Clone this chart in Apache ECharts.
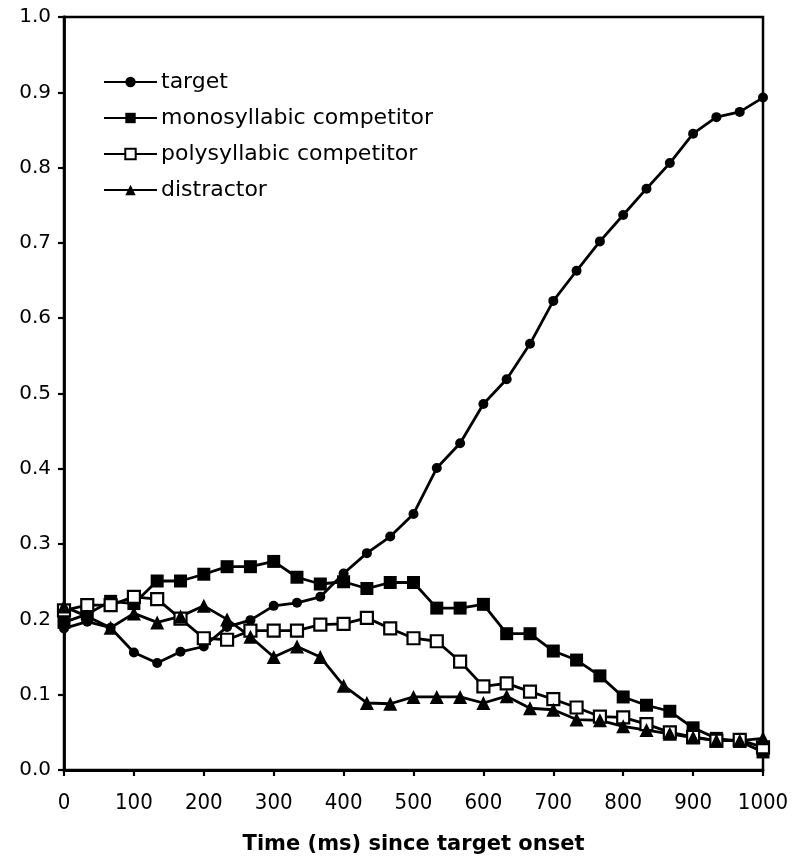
<!DOCTYPE html>
<html>
<head>
<meta charset="utf-8">
<script src="https://cdn.jsdelivr.net/npm/echarts@6/dist/echarts.min.js"></script>
<style>
html,body{margin:0;padding:0;background:#fff;}
#chart{width:800px;height:863px;}
</style>
</head>
<body>
<div id="chart"></div>
<script>
var times = [0, 33.3, 66.7, 100, 133.3, 166.7, 200, 233.3, 266.7, 300, 333.3, 366.7, 400, 433.3, 466.7, 500, 533.3, 566.7, 600, 633.3, 666.7, 700, 733.3, 766.7, 800, 833.3, 866.7, 900, 933.3, 966.7, 1000];
var target = [0.188, 0.197, 0.189, 0.156, 0.142, 0.157, 0.164, 0.190, 0.199, 0.218, 0.222, 0.230, 0.261, 0.288, 0.310, 0.340, 0.401, 0.434, 0.486, 0.519, 0.566, 0.623, 0.663, 0.702, 0.737, 0.772, 0.806, 0.845, 0.867, 0.874, 0.893];
var mono = [0.196, 0.207, 0.224, 0.221, 0.251, 0.251, 0.260, 0.270, 0.270, 0.277, 0.256, 0.247, 0.250, 0.241, 0.249, 0.249, 0.215, 0.215, 0.220, 0.181, 0.181, 0.158, 0.146, 0.125, 0.097, 0.086, 0.078, 0.056, 0.042, 0.038, 0.024];
var poly = [0.212, 0.219, 0.219, 0.230, 0.227, 0.201, 0.175, 0.173, 0.185, 0.185, 0.185, 0.193, 0.194, 0.202, 0.188, 0.175, 0.171, 0.144, 0.111, 0.115, 0.104, 0.094, 0.083, 0.071, 0.070, 0.061, 0.050, 0.044, 0.039, 0.040, 0.030];
var distractor = [0.217, 0.204, 0.189, 0.208, 0.196, 0.204, 0.218, 0.200, 0.177, 0.150, 0.164, 0.150, 0.112, 0.089, 0.088, 0.097, 0.097, 0.097, 0.089, 0.098, 0.082, 0.080, 0.067, 0.066, 0.058, 0.053, 0.048, 0.043, 0.039, 0.039, 0.042];
var seriesNames = ['target', 'monosyllabic competitor', 'polysyllabic competitor', 'distractor'];

function pairs(vals) { return times.map(function (t, i) { return [t, vals[i]]; }); }

var chart = echarts.init(document.getElementById('chart'), null, {renderer: 'canvas'});
var lineStyle = {color: '#000', width: 2.8};
function mk(name, vals, symbol, size, fill) {
  return {
    name: name, type: 'line', data: pairs(vals),
    symbol: symbol, symbolSize: size, showAllSymbol: true,
    lineStyle: lineStyle,
    itemStyle: {color: fill, borderColor: '#000', borderWidth: fill === '#fff' ? 2.2 : 0},
    emphasis: {disabled: true}, animation: false
  };
}
chart.setOption({
  animation: false,
  backgroundColor: '#fff',
  grid: {left: 64, right: 37, top: 17, bottom: 93, show: true, borderColor: '#000', borderWidth: 2.5, containLabel: false},
  legend: {
    orient: 'vertical', left: 98, top: 66,
    itemWidth: 53, itemHeight: 13, itemGap: 14,
    textStyle: {fontFamily: 'DejaVu Sans', fontSize: 22, color: '#000', padding: [0, 0, 0, -1]},
    data: seriesNames
  },
  xAxis: {
    type: 'value', min: 0, max: 1000, interval: 100,
    name: 'Time (ms) since target onset', nameLocation: 'middle', nameGap: 64,
    nameTextStyle: {fontFamily: 'DejaVu Sans', fontWeight: 'bold', fontSize: 21, color: '#000'},
    axisLine: {show: true, onZero: false, lineStyle: {color: '#000', width: 2.8}},
    axisTick: {show: true, length: 6, lineStyle: {color: '#000', width: 2.2}},
    axisLabel: {fontFamily: 'DejaVu Sans Condensed', fontSize: 22, color: '#000', margin: 22,
      formatter: function (v) { return String(v); }},
    splitLine: {show: false}
  },
  yAxis: {
    type: 'value', min: 0, max: 1, interval: 0.1,
    axisLine: {show: true, lineStyle: {color: '#000', width: 2.8}},
    axisTick: {show: true, length: 6, lineStyle: {color: '#000', width: 2.2}},
    axisLabel: {fontFamily: 'DejaVu Sans', fontSize: 20, color: '#000', margin: 13,
      formatter: function (v) { return v.toFixed(1); }},
    splitLine: {show: false}
  },
  series: [
    mk(seriesNames[0], target, 'circle', 10, '#000'),
    mk(seriesNames[1], mono, 'rect', 13, '#000'),
    mk(seriesNames[2], poly, 'rect', 12, '#fff'),
    mk(seriesNames[3], distractor, 'triangle', 14, '#000')
  ]
});
</script>
</body>
</html>
